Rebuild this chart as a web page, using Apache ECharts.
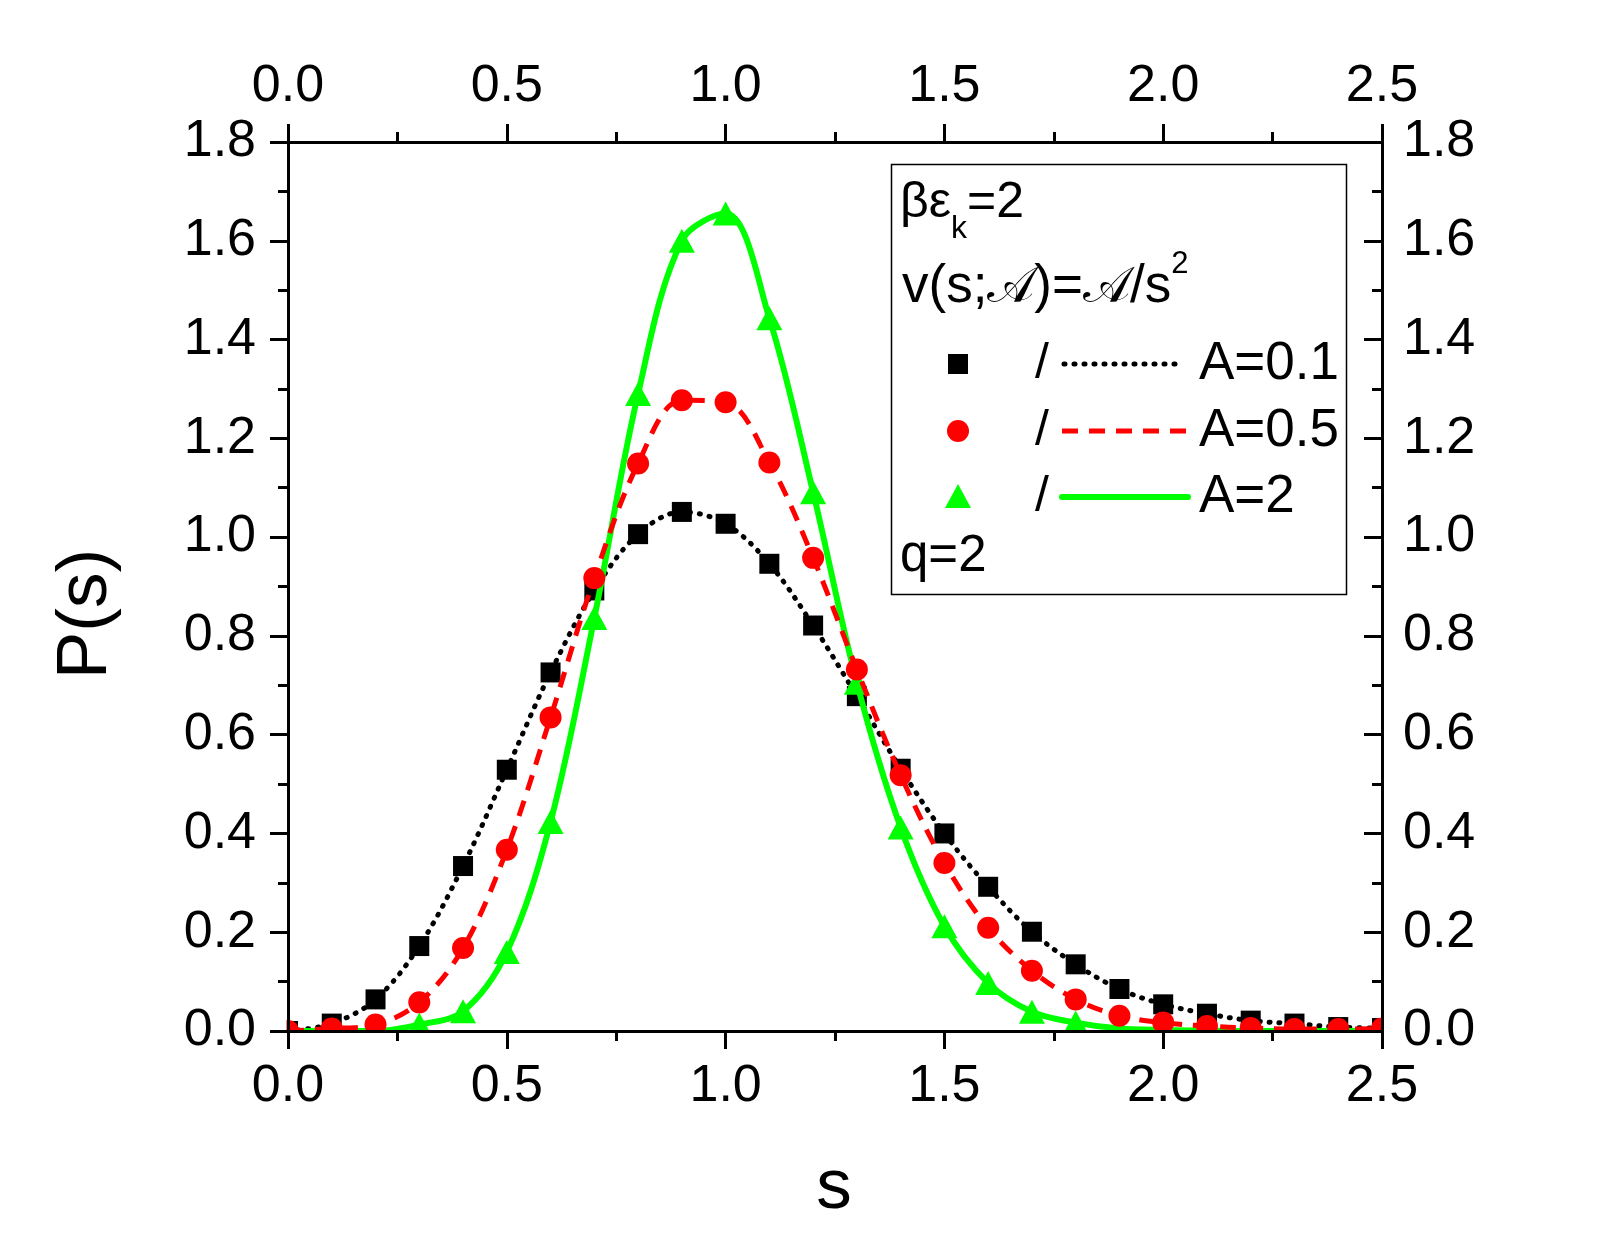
<!DOCTYPE html>
<html>
<head>
<meta charset="utf-8">
<script src="https://cdn.jsdelivr.net/npm/echarts@6/dist/echarts.min.js"></script>
<style>
html,body{margin:0;padding:0;background:#fff;}
#chart{width:1605px;height:1236px;}
</style>
</head>
<body>
<div id="chart"></div>
<script>
// ---- data ----
const sValues = [0.0,0.1,0.2,0.3,0.4,0.5,0.6,0.7,0.8,0.9,1.0,1.1,1.2,1.3,1.4,1.5,1.6,1.7,1.8,1.9,2.0,2.1,2.2,2.3,2.4,2.5];
const pA01 = [0.0,0.015,0.064,0.172,0.334,0.529,0.726,0.892,1.006,1.051,1.027,0.946,0.821,0.678,0.531,0.400,0.292,0.201,0.135,0.085,0.054,0.035,0.021,0.015,0.008,0.006];
const pA05 = [0.0,0.005,0.013,0.058,0.168,0.367,0.635,0.917,1.149,1.277,1.273,1.151,0.958,0.732,0.518,0.340,0.209,0.122,0.064,0.031,0.017,0.010,0.006,0.004,0.004,0.005];
const pA2  = [0.0,0.0,0.0,0.013,0.040,0.160,0.423,0.836,1.290,1.600,1.655,1.443,1.091,0.705,0.412,0.212,0.097,0.039,0.017,0.005,0.002,0.001,0.0,0.0,0.0,0.0];
const xTicks = {min:0, max:2.5, interval:0.5};
const yTicks = {min:0, max:1.8, interval:0.2};
const legendLabels = ['A=0.1','A=0.5','A=2'];

const pairs = arr => sValues.map((s,i)=>[s,arr[i]]);
const FONT = '"Liberation Sans", Arial, sans-serif';
const LBL = 52;
const GRID = {left:288, right:223, top:142, bottom:205};

const chart = echarts.init(document.getElementById('chart'), null, {renderer:'canvas'});

const lab = (margin) => ({color:'#000', fontSize:LBL, fontFamily:FONT, margin:margin, formatter:v=>v.toFixed(1)});
const axisCommon = (extra) => Object.assign({
  type:'value', z:10,
  axisLine:{show:true, onZero:false, lineStyle:{color:'#000', width:3}},
  axisTick:{show:true, length:18, lineStyle:{color:'#000', width:3}},
  minorTick:{show:true, splitNumber:2, length:10, lineStyle:{color:'#000', width:3}},
  splitLine:{show:false}
}, extra);

// chain text pieces of the formula line using real font metrics
const ctx = document.createElement('canvas').getContext('2d');
function chain(x0, y, pieces) {
  const out = [];
  let x = x0;
  pieces.forEach(p => {
    ctx.font = p.font;
    const w = ctx.measureText(p.text).width;
    out.push({type:'text', x:x + (p.dx||0), y:y + (p.dy||0), z:11,
      style:{text:p.text, font:p.font, fill:'#000', verticalAlign:'middle'}});
    x += w + (p.gap||0);
  });
  return out;
}
const F50 = '50px ' + FONT;
const F53 = '53px ' + FONT;
const FA = '50px "DejaVu Serif", "Liberation Serif", serif';
const formula = chain(902, 287, [
  {text:'v(s;', font:F53},
  {text:'𝒜', font:FA, dy:2},
  {text:')=', font:F53},
  {text:'𝒜', font:FA, dy:2},
  {text:'/s', font:F53},
  {text:'2', font:'31px ' + FONT, dy:-23}
]);
const beta = chain(900, 203, [
  {text:'βε', font:F50},
  {text:'k', font:'32px ' + FONT, dy:26},
  {text:'=2', font:F50}
]);

const option = {
  animation:false,
  backgroundColor:'#fff',
  grid:GRID,
  xAxis:[
    axisCommon({position:'bottom', min:xTicks.min, max:xTicks.max, interval:xTicks.interval, axisLabel:lab(30)}),
    axisCommon({position:'top', min:xTicks.min, max:xTicks.max, interval:xTicks.interval, axisLabel:lab(29)})
  ],
  yAxis:[
    axisCommon({position:'left', min:yTicks.min, max:yTicks.max, interval:yTicks.interval, axisLabel:lab(32)}),
    axisCommon({position:'right', min:yTicks.min, max:yTicks.max, interval:yTicks.interval,
      axisTick:{show:true, inside:true, length:18, lineStyle:{color:'#000', width:3}},
      axisLabel:lab(21)})
  ],
  series:[
    {type:'scatter', name:legendLabels[0], data:pairs(pA01), symbol:'rect', symbolSize:20,
      itemStyle:{color:'#000', opacity:1}, z:2},
    {type:'line', data:pairs(pA01), smooth:0.35, showSymbol:false, symbol:'none', clip:true,
      lineStyle:{color:'#000', width:5, type:[1,9], cap:'round'}, z:2},
    {type:'scatter', name:legendLabels[2], data:pairs(pA2), symbol:'triangle', symbolSize:[26,24],
      itemStyle:{color:'#00ff00', opacity:1}, z:3},
    {type:'line', data:pairs(pA2), smooth:0.35, showSymbol:false, symbol:'none', clip:true,
      lineStyle:{color:'#00ff00', width:6}, z:3},
    {type:'scatter', name:legendLabels[1], data:pairs(pA05), symbol:'circle', symbolSize:22,
      itemStyle:{color:'#ff0000', opacity:1}, z:4},
    {type:'line', data:pairs(pA05), smooth:0.35, showSymbol:false, symbol:'none', clip:true,
      lineStyle:{color:'#ff0000', width:5, type:[16,11]}, z:4}
  ],
  graphic:[
    // white masks so markers are cut at the frame (axes drawn above them)
    {type:'rect', shape:{x:236, y:1032.5, width:1190, height:30}, style:{fill:'#fff'}, z:6, silent:true},
    {type:'rect', shape:{x:258, y:110, width:28.5, height:930}, style:{fill:'#fff'}, z:6, silent:true},
    {type:'rect', shape:{x:1383.5, y:110, width:16, height:930}, style:{fill:'#fff'}, z:6, silent:true},
    // axis titles
    {type:'text', x:86, y:614, rotation:Math.PI/2, style:{text:'P(s)', font:'71px '+FONT, fill:'#000', align:'center', verticalAlign:'middle'}},
    {type:'text', x:834, y:1188, style:{text:'s', font:'71px '+FONT, fill:'#000', align:'center', verticalAlign:'middle'}},
    // legend box
    {type:'rect', shape:{x:891.5, y:164.5, width:455, height:430}, style:{fill:'#fff', stroke:'#000', lineWidth:1.5}, z:10},
    ...beta,
    ...formula,
    // legend row 1
    {type:'rect', shape:{x:948, y:354, width:20, height:20}, style:{fill:'#000'}, z:11},
    {type:'text', x:1035, y:364, style:{text:'/', font:F50, fill:'#000', verticalAlign:'middle'}, z:11},
    {type:'line', shape:{x1:1064, y1:364, x2:1180, y2:364}, style:{stroke:'#000', lineWidth:5, lineDash:[1,9], lineCap:'round'}, z:11},
    {type:'text', x:1199, y:364, style:{text:legendLabels[0], font:F53, fill:'#000', verticalAlign:'middle'}, z:11},
    // legend row 2
    {type:'circle', shape:{cx:958, cy:431, r:11}, style:{fill:'#ff0000'}, z:11},
    {type:'text', x:1035, y:431, style:{text:'/', font:F50, fill:'#000', verticalAlign:'middle'}, z:11},
    {type:'line', shape:{x1:1062, y1:431, x2:1188, y2:431}, style:{stroke:'#ff0000', lineWidth:5, lineDash:[16,11]}, z:11},
    {type:'text', x:1199, y:431, style:{text:legendLabels[1], font:F53, fill:'#000', verticalAlign:'middle'}, z:11},
    // legend row 3
    {type:'polygon', shape:{points:[[958,484],[971,508],[945,508]]}, style:{fill:'#00ff00'}, z:11},
    {type:'text', x:1035, y:497, style:{text:'/', font:F50, fill:'#000', verticalAlign:'middle'}, z:11},
    {type:'line', shape:{x1:1062, y1:497, x2:1188, y2:497}, style:{stroke:'#00ff00', lineWidth:6, lineCap:'round'}, z:11},
    {type:'text', x:1199, y:497, style:{text:legendLabels[2], font:F53, fill:'#000', verticalAlign:'middle'}, z:11},
    {type:'text', x:900, y:557, style:{text:'q=2', font:'51px '+FONT, fill:'#000', verticalAlign:'middle'}, z:11}
  ]
};
chart.setOption(option);
</script>
</body>
</html>
